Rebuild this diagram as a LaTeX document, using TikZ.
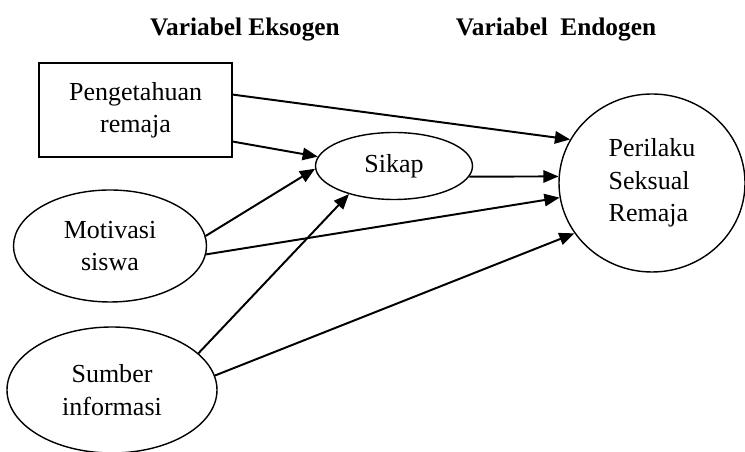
\documentclass[tikz,border=0pt]{standalone}
\usepackage{fontspec}
\setmainfont{Liberation Serif}
\usetikzlibrary{arrows.meta,shapes.geometric}

\begin{document}
\begin{tikzpicture}[
  box/.style={shape=rectangle, draw=black, fill=white, line width=1pt,
    inner sep=0pt, align=center, font=\fontsize{18.5}{23}\selectfont},
  oval/.style={shape=ellipse, draw=black, fill=white, line width=1pt,
    inner sep=0pt, align=center, font=\fontsize{18.5}{23}\selectfont},
  head/.style={font=\fontsize{18}{22}\selectfont\bfseries},
  link/.style={draw=black, -{Triangle[length=3.8mm,width=3.1mm]}, line width=1.4pt}
]
          \useasboundingbox (0,0) rectangle (18.625,11.3);

          % headings
          \node[head] at (6.125,10.55) (eks) {Variabel Eksogen};
          \node[head] at (13.9,10.55) (endo) {Variabel\ \ Endogen};

          % nodes
          \node[box, minimum width=4.825cm, minimum height=2.35cm] at (3.39,8.55)
          (tahu) {Pengetahuan\\remaja};
          \node[oval, minimum width=3.925cm, minimum height=1.675cm] at (9.85,7.15)
          (sikap) {Sikap};
          \node[oval, minimum width=4.825cm, minimum height=2.8cm] at (2.75,5.15)
          (motiv) {Motivasi\\siswa};
          \node[oval, minimum width=5.25cm, minimum height=3.15cm] at (2.8,1.55)
          (sumber) {Sumber\\informasi};
          \node[oval, minimum width=4.65cm, minimum height=4.45cm, align=left] at (16.3,6.725)
          (laku) {Perilaku\\Seksual\\Remaja};

          % arcs
          \path
          (tahu.9) edge[link] (laku.152)
          (tahu.-18) edge[link] (sikap.173)
          (motiv.6) edge[link] (sikap.182)
          (motiv.-5) edge[link] (laku.189)
          (sumber.23) edge[link] (sikap.212)
          (sumber.8) edge[link] (laku.213)
          (sikap.-8) edge[link] (laku.176)
          ;
        \end{tikzpicture}
\end{document}
